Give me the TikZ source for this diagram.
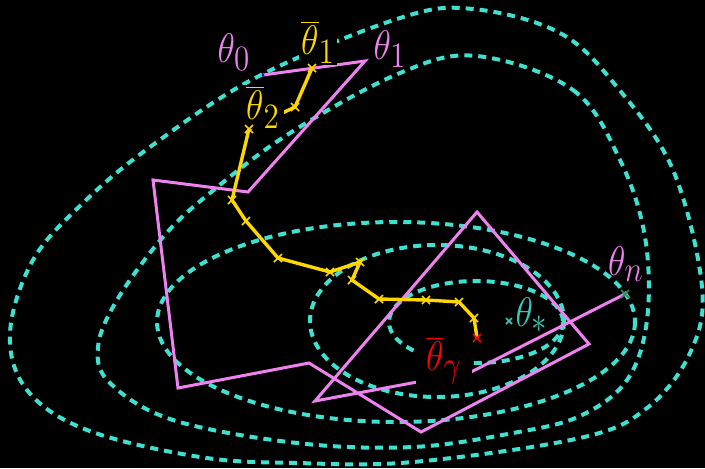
\RequirePackage{fix-cm}
\documentclass[tikz,border=0pt]{standalone}
\usepackage{xcolor}
\usepackage{graphicx}
\usepackage{tikz}
\DeclareMathSizes{18}{18}{15.5}{12}

\definecolor{lvlcyan}{RGB}{64,224,208}
\definecolor{optcyan}{RGB}{60,200,185}
\definecolor{iterpink}{RGB}{238,130,238}
\definecolor{avgyellow}{RGB}{255,215,0}
\definecolor{lastgreen}{RGB}{46,139,87}

\newcommand{\tall}[1]{\scalebox{1}[1.15]{$#1$}}

\begin{document}
\begin{tikzpicture}[
  x=0.5pt, y=-0.5pt,
  level/.style={draw=lvlcyan, line width=2pt, dash pattern=on 4pt off 3pt},
  iterpath/.style={draw=iterpink, line width=1.5pt},
  avgpath/.style={draw=avgyellow, line width=1.7pt},
  cross/.style={line width=0.8pt},
  lbl/.style={font=\fontsize{18}{22}\selectfont, inner sep=1pt},
  avglbl/.style={lbl, fill=black}
]
  \fill[black] (0,0) rectangle (705,468);
  \useasboundingbox (0,0) rectangle (705,468);

  % level sets
  \draw[level] (476,322) ellipse [x radius=87, y radius=41];
  \draw[level] (437,321) ellipse [x radius=127, y radius=76];
  \draw[level] (396,322) ellipse [x radius=239, y radius=100];
  \draw[level] plot[smooth cycle, tension=0.6] coordinates {
    (477,56) (573,90) (620,160) (645,237) (647,320) (627,380) (580,416)
    (513,433) (413,447) (297,443) (173,420) (110,383) (98,347) (117,300)
    (163,237) (210,193) (290,133) (400,73)};
  \draw[level] plot[smooth cycle, tension=0.6] coordinates {
    (473,9) (560,33) (617,87) (673,170) (702,287) (690,353) (647,408)
    (580,438) (413,462) (297,463) (200,457) (87,430) (27,390) (10,333)
    (33,260) (83,203) (150,147) (257,77) (400,18)};

  % iterates
  \foreach \n/\x/\y in {0/263/75, 1/365/61, 2/248/192, 3/153/180, 4/178/388,
      5/309/363, 6/421/432, 7/589/344, 8/477/212, 9/315/401, 10/471/372, 11/625/294}
    \coordinate (p\n) at (\x,\y);
  \draw[iterpath] (p0) \foreach \n in {1,...,11}{ -- (p\n)};

  % averaged iterates
  \foreach \n/\x/\y in {1/312/68, 2/295/107, 3/249/129, 4/232/200, 5/246/221,
      6/278/258, 7/330/272, 8/360/262, 9/352/280, 10/379/299, 11/426/300,
      12/459/302, 13/474/318, 14/477/338}
    \coordinate (a\n) at (\x,\y);
  \draw[avgpath] (a1) \foreach \n in {2,...,14}{ -- (a\n)};

  % labels
  \node[lbl, text=iterpink] (t0) at (234,52) {\tall{\theta_0}};
  \node[lbl, text=iterpink] (t1) at (390,49) {\tall{\theta_1}};
  \node[lbl, text=iterpink] (tn) at (626,264) {\tall{\theta_n}};
  \node[avglbl, text=avgyellow] (b1) at (318,42) {\tall{\overline{\theta}_1}};
  \node[avglbl, text=avgyellow, inner ysep=0.5pt, inner xsep=2pt] (b2) at (263,107) {\tall{\overline{\theta}_2}};
  \node[avglbl, text=red, inner xsep=5pt, inner ysep=2pt] (bg) at (444,360) {\tall{\overline{\theta}_\gamma}};
  \node[lbl, text=optcyan] (ts) at (532,315) {\tall{\theta_*}};

  % marks
  \foreach \n in {1,...,13}
    \draw[cross, avgyellow] (a\n) +(-4,-4) -- +(4,4) +(-4,4) -- +(4,-4);
  \draw[cross, red] (a14) +(-4,-4) -- +(4,4) +(-4,4) -- +(4,-4);
  \draw[cross, lastgreen] (p11) +(-4,-4) -- +(4,4) +(-4,4) -- +(4,-4);
  \coordinate (opt) at (509,321);
  \draw[cross, optcyan] (opt) +(-3,-3) -- +(3,3) +(-3,3) -- +(3,-3);
  \fill[blue] (p0) circle (1.5);
\end{tikzpicture}
\end{document}
